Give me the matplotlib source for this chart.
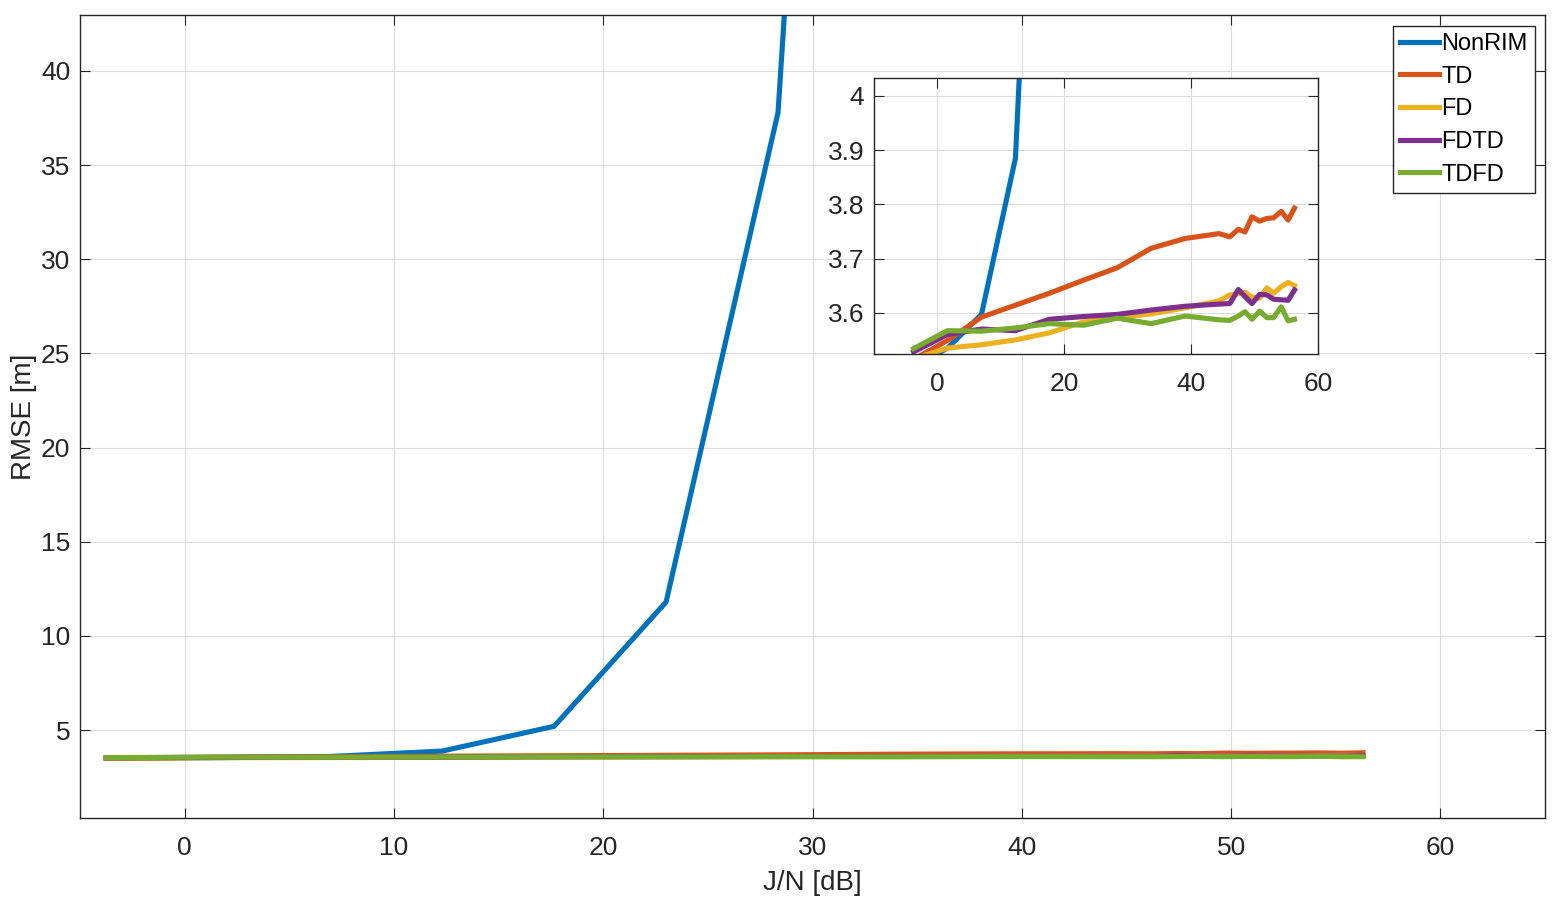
import matplotlib.pyplot as plt
import numpy as np
from matplotlib.ticker import FormatStrFormatter

plt.rcParams['font.family'] = ['Liberation Sans', 'DejaVu Sans']

# J/N values in dB
jn = [-3.75, 1.6, 6.95, 12.3, 17.65, 23.0, 28.35, 33.7, 39.05, 44.4,
      46.1, 47.45, 48.5, 49.6, 50.8, 51.95, 53.0, 54.2, 55.3, 56.3]

# NonRIM blows up, only the first points are visible
nonrim = [3.50, 3.535, 3.597, 3.885, 5.2, 11.8, 37.8, 130.0]
td = [3.514, 3.549, 3.592, 3.614, 3.636, 3.660, 3.683, 3.719, 3.737, 3.746,
      3.740, 3.754, 3.749, 3.777, 3.769, 3.774, 3.775, 3.787, 3.771, 3.793]
fd = [3.515, 3.535, 3.541, 3.550, 3.563, 3.583, 3.591, 3.598, 3.609, 3.622,
      3.633, 3.635, 3.638, 3.629, 3.627, 3.646, 3.636, 3.648, 3.656, 3.650]
fdtd = [3.528, 3.560, 3.570, 3.567, 3.588, 3.593, 3.597, 3.605, 3.612, 3.616,
        3.617, 3.643, 3.630, 3.617, 3.634, 3.633, 3.625, 3.624, 3.623, 3.642]
tdfd = [3.534, 3.567, 3.566, 3.572, 3.580, 3.577, 3.590, 3.580, 3.594, 3.587,
        3.586, 3.594, 3.602, 3.588, 3.603, 3.591, 3.591, 3.611, 3.585, 3.588]

names = ['NonRIM', 'TD', 'FD', 'FDTD', 'TDFD']
colors = ['#0072BD', '#D95319', '#EDB120', '#7E2F8E', '#77AC30']
series = [nonrim, td, fd, fdtd, tdfd]

axcol = '#262626'


def style_axes(ax, size):
    ax.grid(True, color='#dcdcdc', linewidth=0.8)
    ax.set_axisbelow(True)
    for s in ax.spines.values():
        s.set_color(axcol)
        s.set_linewidth(1.0)
    ax.tick_params(direction='in', top=True, right=True, length=7,
                   colors=axcol, labelsize=size)
    ax.tick_params(axis='x', pad=13)
    ax.tick_params(axis='y', pad=7)


fig = plt.figure(figsize=(15.61, 9.06), dpi=100)

ax = fig.add_axes([0.0513, 0.0971, 0.9385, 0.8863])
for ys, c, n in zip(series, colors, names):
    ax.plot(jn[:len(ys)], ys, color=c, lw=3.7, label=n)
ax.set_xlim(-5, 65)
ax.set_ylim(0.33, 42.97)
ax.set_xticks(np.arange(0, 61, 10))
ax.set_yticks(np.arange(5, 41, 5))
style_axes(ax, 19)
ax.set_xlabel('J/N [dB]', fontsize=20, color=axcol, labelpad=7)
ax.set_ylabel('RMSE [m]', fontsize=20, color=axcol, labelpad=3)

leg = ax.legend(loc='upper right', bbox_to_anchor=(1535 / 1561, 1 - 26 / 906),
                bbox_transform=fig.transFigure, fontsize=17, fancybox=False,
                framealpha=1, edgecolor=axcol, handlelength=1.65,
                handletextpad=0.12, labelspacing=0.45, borderpad=0.3,
                borderaxespad=0)
leg.get_frame().set_linewidth(1.0)

# zoomed inset
ins = fig.add_axes([0.5599, 0.6093, 0.2844, 0.3046])
for ys, c in zip(series, colors):
    ins.plot(jn[:len(ys)], ys, color=c, lw=3.7)
ins.set_xlim(-10, 60)
ins.set_ylim(3.524, 4.033)
ins.set_xticks([0, 20, 40, 60])
ins.set_yticks([3.6, 3.7, 3.8, 3.9, 4.0])
ins.yaxis.set_major_formatter(FormatStrFormatter('%g'))
style_axes(ins, 19)

fig.savefig('out.png', dpi=100)
